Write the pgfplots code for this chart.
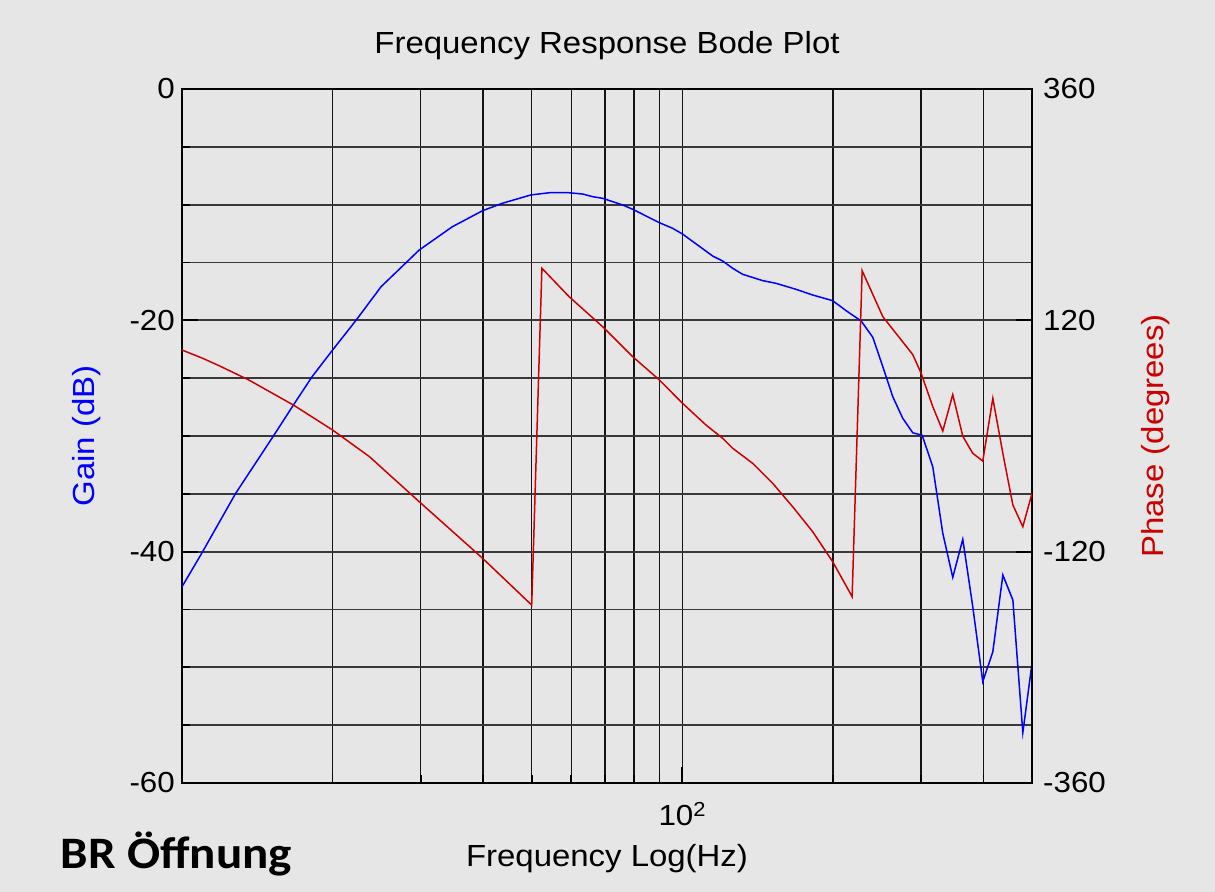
\documentclass[border=0pt]{standalone}
\usepackage{pgfplots}
\pgfplotsset{compat=1.18}
\usepackage{pgfplotstable}
\usepackage{fontspec}
\setmainfont{Liberation Sans}[FakeStretch=1.08]
\newfontfamily\brfont{Carlito}[FakeStretch=1.09]
\definecolor{bg}{RGB}{230,230,230}
\definecolor{phred}{RGB}{204,0,0}
\definecolor{gblue}{RGB}{0,0,255}

\pgfplotstableread{
f g
10 -43.03
10.9 -40.29
12.8 -34.96
15.2 -30.06
16.7 -27.32
18.2 -24.87
20.0 -22.57
22.3 -19.97
25.0 -17.09
29.8 -13.92
34.7 -11.91
39.9 -10.52
43.7 -9.88
49.8 -9.16
54.2 -8.97
59.4 -8.97
63.2 -9.08
66.2 -9.31
69.3 -9.45
76.0 -10.03
79.6 -10.40
90.0 -11.56
95.6 -12.04
100.1 -12.54
115.0 -14.44
120.4 -14.87
126.1 -15.50
132.0 -16.02
144.8 -16.57
153.9 -16.80
168.8 -17.32
182.2 -17.81
199.8 -18.30
212.6 -19.17
227.8 -20.06
240.3 -21.47
251.6 -24.00
263.4 -26.60
275.8 -28.47
288.8 -29.72
301.6 -29.94
316.7 -32.66
331.6 -38.41
347.2 -42.22
363.6 -38.93
380.7 -44.76
398.7 -51.24
417.5 -48.65
437.2 -42.02
457.8 -44.18
479.3 -55.65
500 -49.65
}\gaintable

\pgfplotstableread{
f p
10 89.2
11.0 80.6
11.9 72.6
13.6 58.1
16.7 32.1
20.0 6.2
23.7 -21.5
29.8 -68.2
39.9 -126.9
50.0 -175.4
52.4 174.0
59.4 144.5
69.3 113.4
79.6 82.3
90.0 58.1
100.1 33.9
111.5 11.4
120.4 -2.4
126.1 -12.8
138.2 -28.3
151.6 -49.1
166.2 -73.4
182.2 -99.3
199.8 -130.4
218.5 -166.7
228.8 171.5
251.6 123.8
288.8 84.5
300.2 65.0
316.7 30.4
331.6 5.2
347.2 43.0
363.6 -0.3
380.7 -18.0
398.7 -26.0
417.5 39.1
437.2 -18.0
457.8 -71.6
479.3 -94.1
500 -59.5
}\phasetable

\begin{document}
\begin{tikzpicture}
\useasboundingbox (0,0) rectangle (1215bp,892bp);
\fill[bg] (0,0) rectangle (1215bp,892bp);
\begin{axis}[
  name=main,
  at={(182bp,109bp)}, anchor=south west, scale only axis,
  width=850bp, height=694bp,
  xmode=log, xmin=10, xmax=500, ymin=-60, ymax=0,
  clip mode=individual,
  axis line style={black, line width=1.3bp},
  xtick={100}, xticklabels={10\textsuperscript{2}},
  minor xtick={20,30,40,50,60,70,80,90,200,300,400},
  ytick={-60,-40,-20,0}, yticklabels={-60,-40,-20,0},
  minor ytick={-55,-50,-45,-35,-30,-25,-15,-10,-5},
  xtick pos=bottom, ytick pos=left,
  tick align=inside,
  major tick length=16bp, minor tick length=8bp,
  tick style={black, line width=1.8bp},
  grid=both,
  every axis x grid/.append style={black!92, line width=1.5bp},
  every axis y grid/.append style={black!78, line width=1.8bp},
  tick label style={font=\fontsize{29bp}{34bp}\selectfont, inner sep=0pt},
  yticklabel shift=7bp,
  xticklabel style={anchor=base, yshift=-42bp},
  title={Frequency Response Bode Plot},
  title style={at={(axis description cs:0.5,1.0432)}, anchor=base, inner sep=0pt, font=\fontsize{30.5bp}{36bp}\selectfont},
  xlabel={Frequency Log(Hz)},
  xlabel style={at={(axis description cs:0.5,-0.11960)}, anchor=base, inner sep=0pt, font=\fontsize{30.5bp}{36bp}\selectfont},
  ylabel={Gain (dB)},
  ylabel style={at={(axis description cs:-0.10294,0.5)}, anchor=base, rotate=0, inner sep=0pt, text=gblue, font=\fontsize{30.5bp}{36bp}\selectfont},
]
\addplot[gblue, line width=1.5bp] table[x=f, y=g] {\gaintable};
\node[anchor=base west, inner sep=0pt, font={\brfont\bfseries\fontsize{45bp}{50bp}\selectfont}] at (axis description cs:-0.1427,-0.12248) {BR Öffnung};
\end{axis}
\begin{axis}[
  at={(182bp,109bp)}, anchor=south west, scale only axis,
  width=850bp, height=694bp,
  xmode=log, xmin=10, xmax=500, ymin=-360, ymax=360,
  axis x line=none, axis y line*=right,
  axis line style={black, line width=1.3bp},
  ytick={-360,-120,120,360}, yticklabels={-360,-120,120,360},
  tick align=inside, major tick length=16bp,
  tick style={black, line width=1.8bp},
  tick label style={font=\fontsize{29bp}{34bp}\selectfont, inner sep=0pt},
  yticklabel shift=11bp,
  ylabel={Phase (degrees)},
  ylabel style={at={(axis description cs:1.15412,0.5)}, anchor=base, rotate=0, inner sep=0pt, text=phred, font=\fontsize{30.5bp}{36bp}\selectfont},
]
\addplot[phred, line width=1.5bp] table[x=f, y=p] {\phasetable};
\end{axis}
\end{tikzpicture}
\end{document}
